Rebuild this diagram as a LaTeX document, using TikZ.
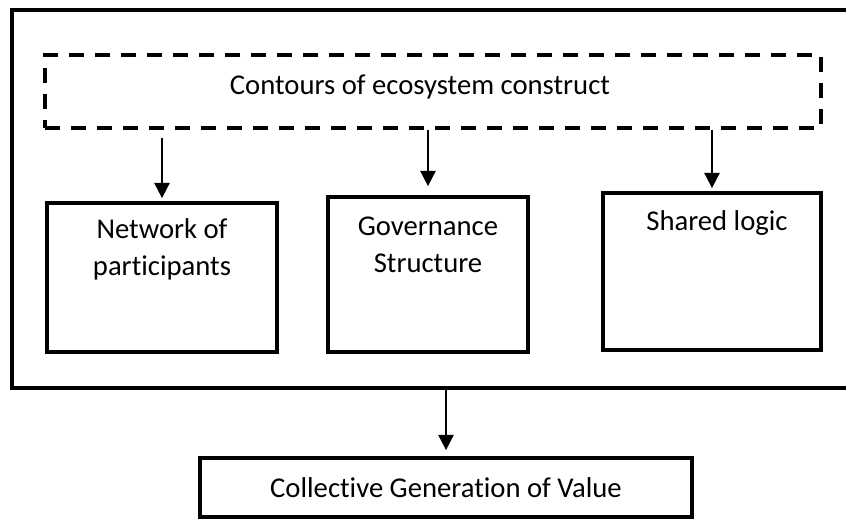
\documentclass[tikz,border=0pt]{standalone}
\usepackage{fontspec}
\setmainfont{Carlito}[Ligatures=NoCommon]
\usetikzlibrary{positioning,arrows.meta}

\begin{document}
\begin{tikzpicture}[x=0.75pt,y=-0.75pt,
 box/.style={draw,line width=2.8pt,inner sep=0pt},
 txt/.style={font=\fontsize{21.5}{27.75}\selectfont,align=center,inner sep=0pt},
 arr/.style={-{Triangle[length=11.5pt,width=11.5pt]},line width=1.3pt}]
 \useasboundingbox (0,0) rectangle (846,518);
 \node[box,minimum width=633pt,minimum height=283.5pt] (frame) at (434,199) {};
 \node[box,dash pattern=on 11pt off 8.5pt,minimum width=582pt,minimum height=54.75pt] (eco) at (433,91.5) {};
 \node[txt,anchor=base] (eco_t) at ([xshift=-9.75pt,yshift=-2.6pt]eco.center) {Contours of ecosystem construct};
 \node[box,minimum width=172.5pt,minimum height=111.75pt] (net) at (162,277.5) {};
 \node[txt,below=12.75pt of net.north] (net_t) {Network of\\participants};
 \node[box,minimum width=150pt,minimum height=116.25pt] (gov) at (428,274.5) {};
 \node[txt,below=15.75pt of gov.north] (gov_t) {Governance\\Structure};
 \node[box,minimum width=163.5pt,minimum height=117.75pt] (shared) at (712,271.5) {};
 \node[txt,below=14.25pt of shared.north,xshift=3.75pt] (shared_t) {Shared logic};
 \node[box,txt,minimum width=369pt,minimum height=44.25pt] (coll) at (446,487.5) {Collective Generation of Value};
 \path[arr]
 (eco.south -| net.north) edge[shorten <=6pt,shorten >=2.25pt] (net.north)
 (eco.south -| gov.north) edge[shorten >=6.75pt] (gov.north)
 (eco.south -| shared.north) edge[shorten >=2.25pt] (shared.north)
 (frame.south -| coll.north) edge[shorten >=4.5pt] (coll.north);
\end{tikzpicture}
\end{document}
